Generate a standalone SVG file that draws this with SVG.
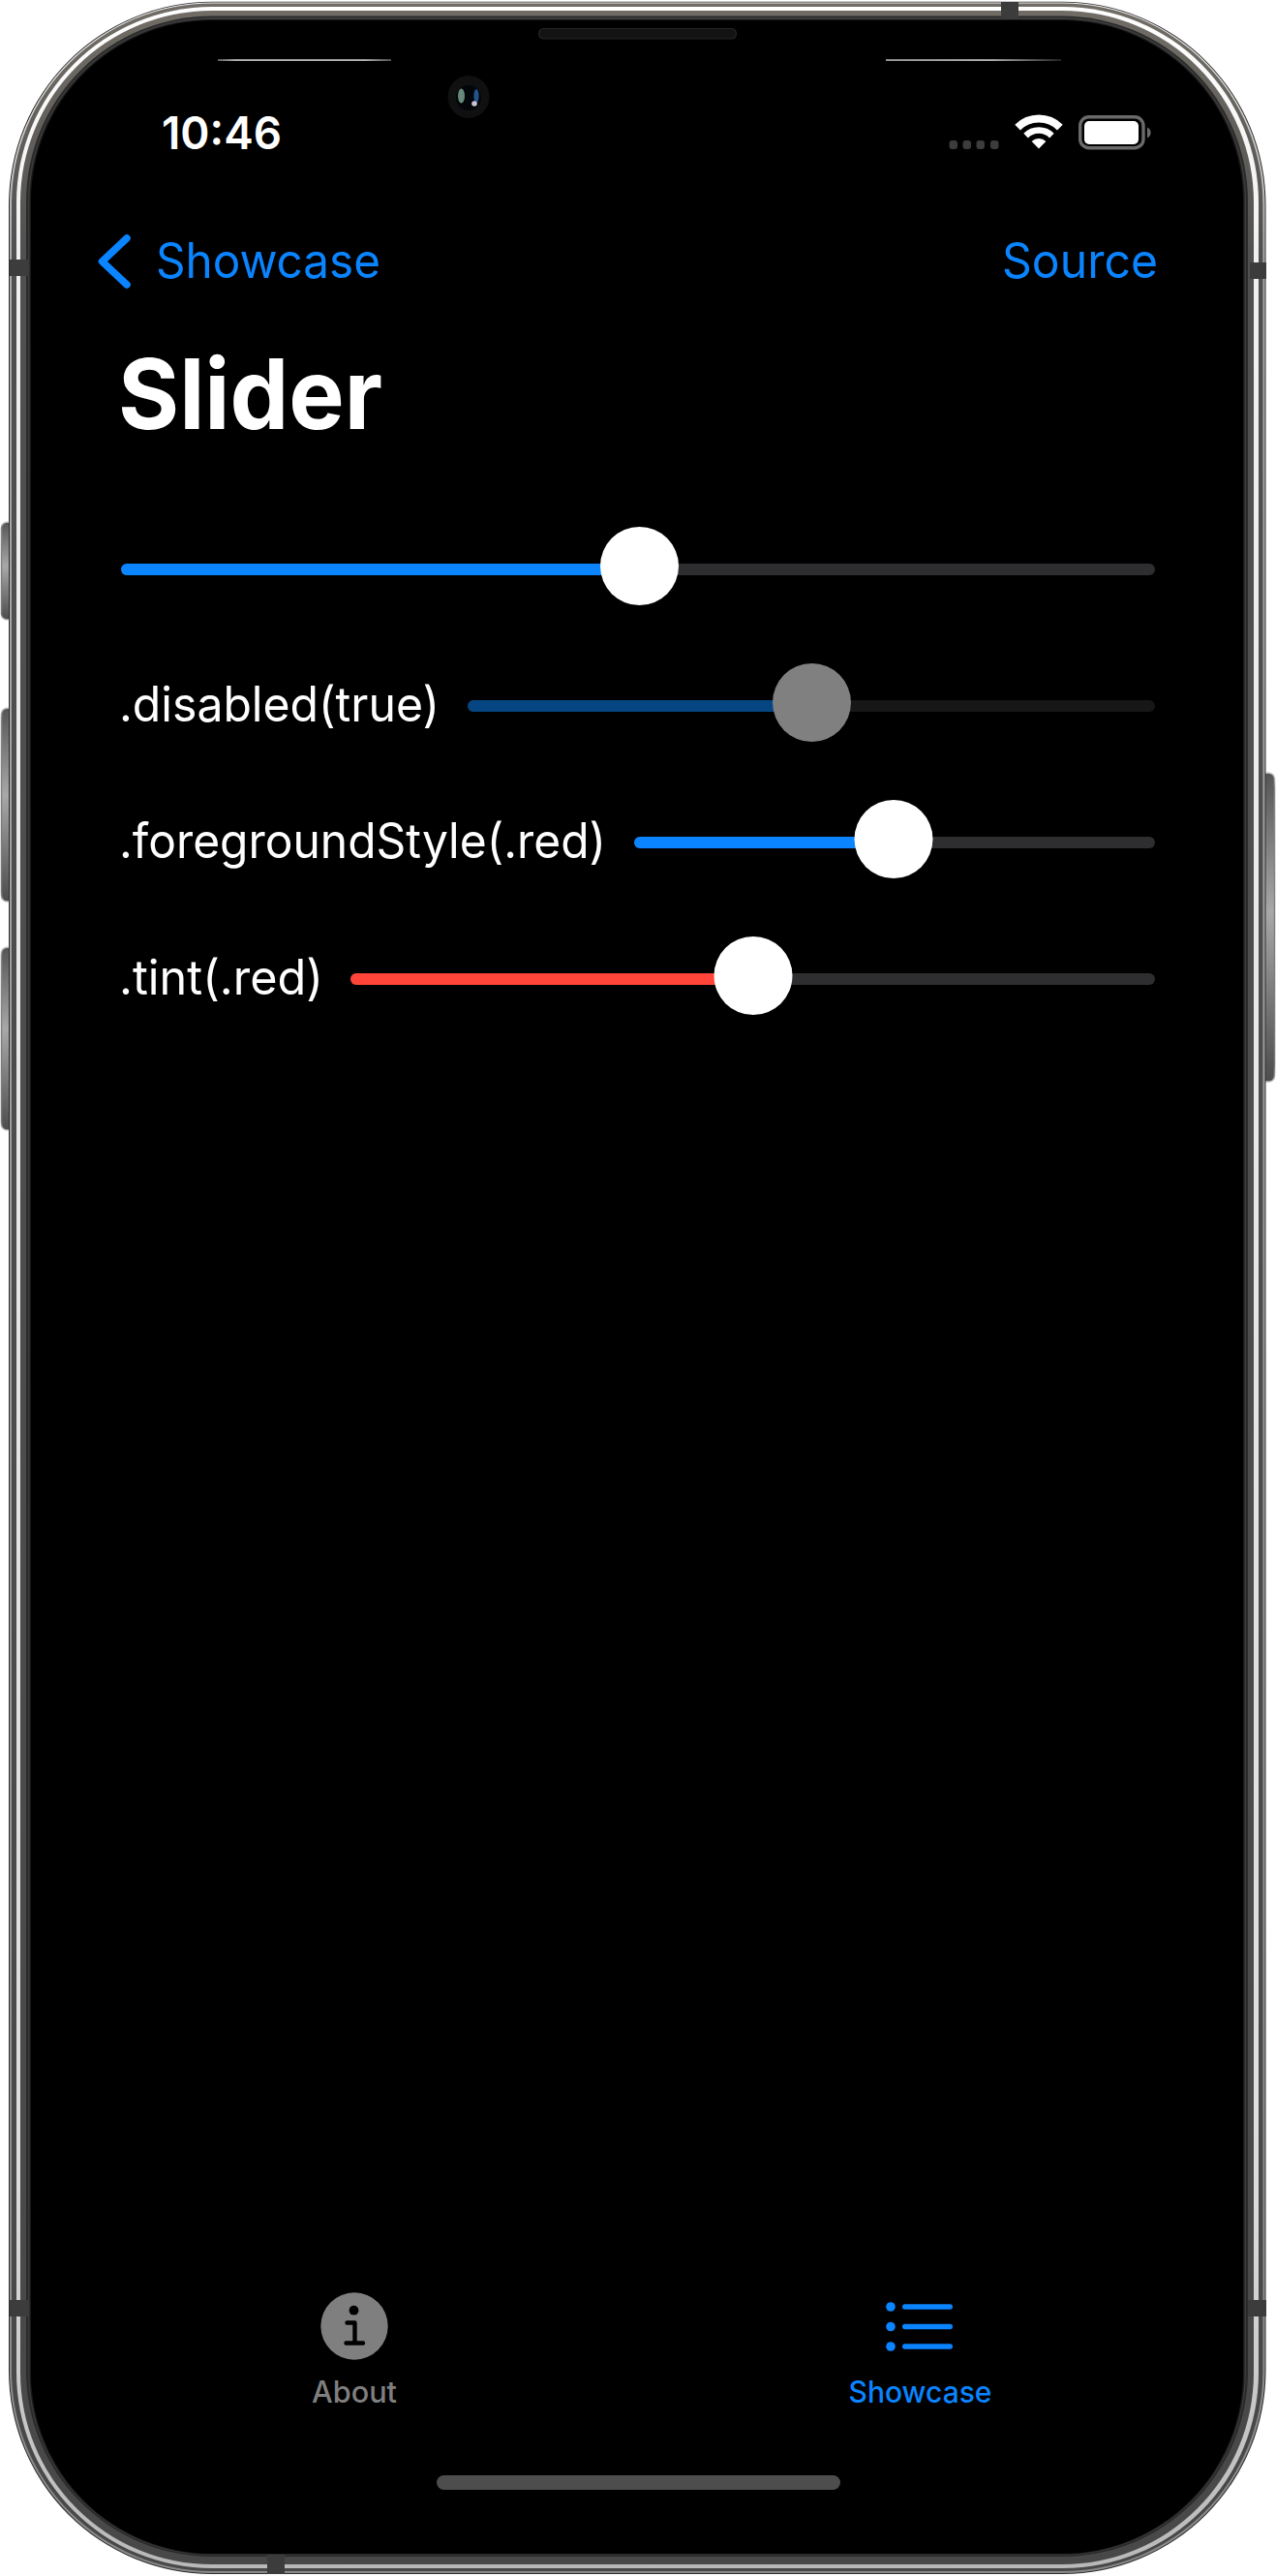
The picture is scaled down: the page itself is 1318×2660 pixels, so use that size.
<svg xmlns="http://www.w3.org/2000/svg" width="1318" height="2660" viewBox="0 0 1318 2660">
<style>
text{font-family:"Inter","Liberation Sans",sans-serif}
.lbl{font-size:50px;fill:#fff}
.nav{font-size:50px;fill:#0a84ff}
.tab{font-size:31px;font-weight:500}
.on{fill:#0a84ff}.trk{fill:#2e2e30}.th{fill:#fff}
.notch{fill:#3c3c3c}
.btn{fill:url(#btn);stroke:url(#btnEdge);stroke-width:1.5}
.bar{fill:#0a84ff}
</style>
<defs>
<linearGradient id="band" gradientUnits="userSpaceOnUse" x1="0" y1="0" x2="0" y2="2660"><stop offset="0" stop-color="#716d66"/><stop offset=".03" stop-color="#6a6660"/><stop offset=".1" stop-color="#505050"/><stop offset="1" stop-color="#484848"/></linearGradient>
<linearGradient id="bright" gradientUnits="userSpaceOnUse" x1="0" y1="0" x2="0" y2="2660"><stop offset="0" stop-color="#fff"/><stop offset=".1" stop-color="#f0f0f0"/><stop offset=".85" stop-color="#dcdcdc"/><stop offset="1" stop-color="#b8b8b8"/></linearGradient>
<linearGradient id="thin" gradientUnits="userSpaceOnUse" x1="0" y1="0" x2="0" y2="2660"><stop offset="0" stop-color="#eee"/><stop offset=".1" stop-color="#aaa"/><stop offset="1" stop-color="#8a8a8a"/></linearGradient>
<linearGradient id="btn" x1="0" y1="0" x2="0" y2="1"><stop offset="0" stop-color="#555"/><stop offset=".45" stop-color="#a8a8a8"/><stop offset="1" stop-color="#4c4c4c"/></linearGradient>
<linearGradient id="btnEdge" x1="0" y1="0" x2="0" y2="1"><stop offset="0" stop-color="#ccc"/><stop offset=".05" stop-color="#888"/><stop offset=".95" stop-color="#777"/><stop offset="1" stop-color="#bbb"/></linearGradient>
<linearGradient id="ln1"><stop offset="0" stop-color="#888"/><stop offset=".1" stop-color="#fff"/><stop offset=".85" stop-color="#fff"/><stop offset="1" stop-color="#777"/></linearGradient>
<linearGradient id="ln2"><stop offset="0" stop-color="#ddd"/><stop offset=".6" stop-color="#fff"/><stop offset="1" stop-color="#333"/></linearGradient>
</defs>
<rect width="1318" height="2660" fill="#fff"/>
<g id="side-buttons">
<rect class="btn" x="1.5" y="539" width="12" height="101" rx="6"/>
<rect class="btn" x="1.5" y="731" width="12" height="200" rx="6"/>
<rect class="btn" x="1.5" y="978" width="12" height="189" rx="6"/>
<rect class="btn" x="1303" y="798" width="13.5" height="319" rx="6"/>
</g>
<g id="frame">
<rect x="9" y="1.7" width="1298.5" height="2656.3" rx="210" fill="#2c2c2c"/>
<rect x="10" y="2.6" width="1296.5" height="2654.4" rx="209" fill="url(#thin)"/>
<rect x="12" y="3.6" width="1292.5" height="2651.4" rx="207" fill="url(#band)"/>
<rect x="17" y="7" width="1283" height="2645" rx="202" fill="url(#bright)"/>
<rect x="21" y="11" width="1274" height="2637" rx="198" fill="url(#band)"/>
<rect x="27" y="16.5" width="1262" height="2623.5" rx="192" fill="#2a2a2a"/>
<rect x="29" y="18" width="1258" height="2620.5" rx="190" fill="#3c3c3c"/>
<rect x="30.5" y="20" width="1255" height="2617.5" rx="188" fill="#1a1a1a"/>
<rect x="32" y="21" width="1252" height="2616" rx="187" fill="#000"/>
<rect class="notch" x="10" y="268" width="19" height="17"/>
<rect class="notch" x="1291" y="271" width="17" height="17"/>
<rect class="notch" x="1034" y="2" width="18" height="16"/>
<rect class="notch" x="276" y="2638" width="18" height="20"/>
<rect class="notch" x="10" y="2375" width="19" height="17"/>
<rect class="notch" x="1289" y="2375" width="19" height="17"/>
</g>
<g id="sensors">
<rect x="225" y="61.4" width="179" height="1.3" fill="url(#ln1)"/>
<rect x="915" y="61.4" width="181" height="1.3" fill="url(#ln2)"/>
<rect x="556.5" y="29.5" width="204" height="10.5" rx="5.2" fill="#131313" stroke="#262626" stroke-width="1.2"/>
<ellipse cx="484" cy="100" rx="21.5" ry="22" fill="#101010"/>
<circle cx="484" cy="101" r="13" fill="#02060a"/>
<ellipse cx="476.5" cy="99" rx="3.5" ry="7.5" fill="#66897c"/>
<ellipse cx="492" cy="99" rx="2.6" ry="7" fill="#24528c"/>
<circle cx="490" cy="107" r="2.8" fill="#c9c4d6"/>
</g>
<g id="status-bar">
<text x="167" y="154" font-size="47" font-weight="600" fill="#fff" textLength="124" lengthAdjust="spacingAndGlyphs">10:46</text>
<g fill="#3c3c3c"><rect x="980.5" y="145" width="8.5" height="9" rx="3"/><rect x="994.5" y="145" width="8.5" height="9" rx="3"/><rect x="1008.5" y="145" width="8.5" height="9" rx="3"/><rect x="1023" y="145" width="8.5" height="9" rx="3"/></g>
<g id="wifi" fill="none" stroke="#fff"><path d="M1051.1 131.6A31 31 0 0 1 1094.9 131.6" stroke-width="8"/><path d="M1059.6 140.1A19 19 0 0 1 1086.4 140.1" stroke-width="6.5"/><path d="M1073 153.5L1065.6 146.1A10.5 10.5 0 0 1 1080.4 146.1Z" fill="#fff" stroke="none"/></g>
<g id="battery"><rect x="1115.7" y="120.7" width="65.3" height="32" rx="9" fill="none" stroke="#6a6a6a" stroke-width="3.4"/><rect x="1120" y="125" width="56" height="24" rx="5" fill="#fff"/><path d="M1185 131.5A6 6 0 0 1 1185 142.5Z" fill="#6a6a6a"/></g>
</g>
<g id="nav-bar">
<path d="M131 246L105.5 270L131 294" fill="none" stroke="#0a84ff" stroke-width="7.5" stroke-linecap="round" stroke-linejoin="round"/>
<text class="nav" x="161" y="287" textLength="232" lengthAdjust="spacingAndGlyphs">Showcase</text>
<text class="nav" x="1035" y="287" textLength="161" lengthAdjust="spacingAndGlyphs">Source</text>
<text x="122" y="443" font-size="101" font-weight="700" fill="#fff" textLength="273" lengthAdjust="spacingAndGlyphs">Slider</text>
</g>
<g id="slider-plain">
<rect class="trk" x="125" y="582" width="1068" height="12" rx="6"/>
<rect class="on" x="125" y="582" width="540" height="12" rx="6"/>
<circle class="th" cx="660.5" cy="584.5" r="40.5"/>
</g>
<g id="slider-disabled">
<text class="lbl" x="123" y="745" textLength="331" lengthAdjust="spacingAndGlyphs">.disabled(true)</text>
<rect x="483" y="723" width="710" height="12" rx="6" fill="#171717"/>
<rect x="483" y="723" width="360" height="12" rx="6" fill="#054581"/>
<circle cx="838.5" cy="725.5" r="40.5" fill="#808080"/>
</g>
<g id="slider-foreground">
<text class="lbl" x="123" y="886" textLength="503" lengthAdjust="spacingAndGlyphs">.foregroundStyle(.red)</text>
<rect class="trk" x="655" y="864" width="538" height="12" rx="6"/>
<rect class="on" x="655" y="864" width="272" height="12" rx="6"/>
<circle class="th" cx="923" cy="866.5" r="40.5"/>
</g>
<g id="slider-tint">
<text class="lbl" x="123" y="1027" textLength="211" lengthAdjust="spacingAndGlyphs">.tint(.red)</text>
<rect class="trk" x="362" y="1005" width="831" height="12" rx="6"/>
<rect x="362" y="1005" width="420" height="12" rx="6" fill="#ff453a"/>
<circle class="th" cx="778" cy="1007.5" r="40.5"/>
</g>
<g id="tab-about">
<circle cx="366" cy="2402" r="34.7" fill="#7f7f7f"/>
<circle cx="365.5" cy="2385.7" r="4.9" fill="#000"/>
<path d="M358.5 2398.5H366.5V2419M357.5 2419.5H375" fill="none" stroke="#000" stroke-width="4.4" stroke-linecap="round" stroke-linejoin="round"/>
<text class="tab" x="322" y="2481" fill="#7f7f7f" textLength="88" lengthAdjust="spacingAndGlyphs">About</text>
</g>
<g id="tab-showcase">
<circle class="bar" cx="920" cy="2382" r="4.8"/><circle class="bar" cx="920" cy="2402.5" r="4.8"/><circle class="bar" cx="920" cy="2423" r="4.8"/>
<rect class="bar" x="932" y="2379.3" width="52" height="5.5" rx="2.7"/><rect class="bar" x="932" y="2399.8" width="52" height="5.5" rx="2.7"/><rect class="bar" x="932" y="2420.3" width="52" height="5.5" rx="2.7"/>
<text class="tab" x="876.5" y="2481" fill="#0a84ff" textLength="148" lengthAdjust="spacingAndGlyphs">Showcase</text>
</g>
<rect id="home-indicator" x="451" y="2556" width="417" height="15" rx="7.5" fill="#4d4d4d"/>
</svg>
